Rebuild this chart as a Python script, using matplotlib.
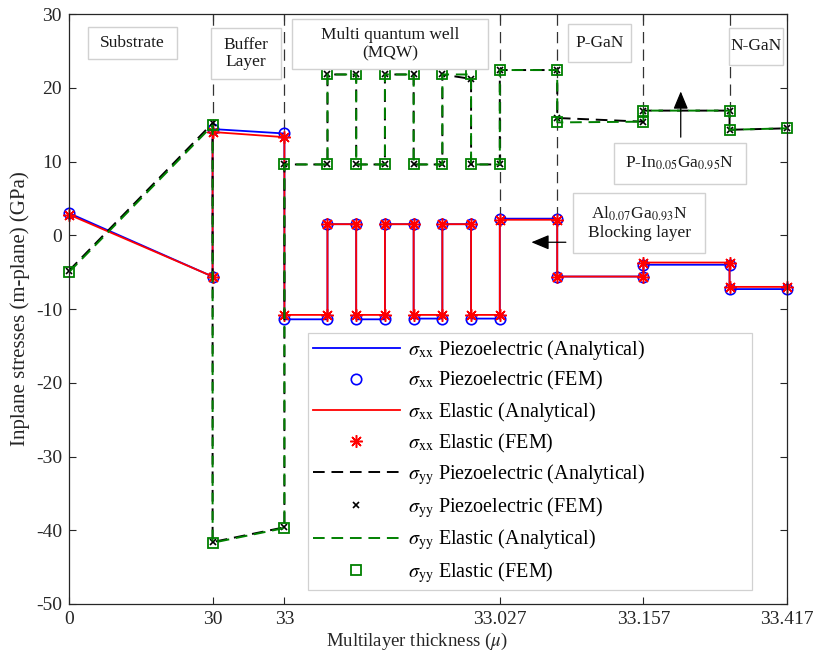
import numpy as np
import matplotlib
matplotlib.use("Agg")
import matplotlib.pyplot as plt
from matplotlib.patches import Rectangle

plt.rcParams['font.family'] = ['Liberation Serif', 'DejaVu Serif']
plt.rcParams['mathtext.fontset'] = 'stix'
plt.rcParams['axes.unicode_minus'] = False

# layer positions (index scale) and their thickness tick labels
tick_pos = [0, 10, 15, 30, 40, 50]
tick_lbl = ['0', '30', '33', '33.027', '33.157', '33.417']

x = [0, 10, 10, 15, 15, 18, 18, 20, 20, 22, 22, 24, 24, 26, 26, 28, 28,
     30, 30, 34, 34, 40, 40, 46, 46, 50]

sxx_piezo = [3.0, -5.6, 14.4, 13.8, -11.4, -11.4, 1.5, 1.5, -11.4, -11.4, 1.5, 1.5,
             -11.3, -11.3, 1.5, 1.5, -11.3, -11.3, 2.25, 2.25, -5.6, -5.6, -4.0, -4.0,
             -7.3, -7.3]
sxx_elastic = [2.8, -5.6, 14.0, 13.3, -10.8, -10.8, 1.5, 1.5, -10.8, -10.8, 1.5, 1.5,
               -10.8, -10.8, 1.5, 1.5, -10.8, -10.8, 2.1, 2.1, -5.6, -5.6, -3.7, -3.7,
               -7.0, -7.0]
syy_piezo = [-4.8, 15.2, -41.6, -39.6, 9.6, 9.6, 21.8, 21.8, 9.6, 9.6, 21.8, 21.8,
             9.6, 9.6, 21.8, 21.2, 9.6, 9.6, 22.4, 22.4, 15.9, 15.4, 16.9, 16.9,
             14.3, 14.5]
syy_elastic = [-5.0, 14.9, -41.7, -39.7, 9.6, 9.6, 21.8, 21.8, 9.6, 9.6, 21.8, 21.8,
               9.6, 9.6, 21.8, 21.8, 9.6, 9.6, 22.4, 22.4, 15.3, 15.4, 16.9, 16.9,
               14.3, 14.5]

# layer boundaries: x position and lowest point of the boundary line
bound_x = [10, 15, 30, 34, 40, 46]
bound_y = [15.0, 13.8, 2.2, 2.2, 16.9, 16.9]

fig = plt.figure(figsize=(8.14, 6.61), dpi=100)
ax = fig.add_axes([69/814, 1-604/661, 718/814, 590/661])

for bx, by in zip(bound_x, bound_y):
    ax.plot([bx, bx], [30, by], color='0.2', lw=0.9, dashes=(9, 5))

star = (8, 2, 0)
ax.plot(x, sxx_piezo, color='b', lw=1.3, label=r'$\sigma_{\mathrm{xx}}$ Piezoelectric (Analytical)')
ax.plot(x, sxx_piezo, ls='none', marker='o', ms=7.5, mfc='none', mec='b', mew=1.2,
        clip_on=False, label=r'$\sigma_{\mathrm{xx}}$ Piezoelectric (FEM)')
ax.plot(x, sxx_elastic, color='r', lw=1.3, label=r'$\sigma_{\mathrm{xx}}$ Elastic (Analytical)')
ax.plot(x, sxx_elastic, ls='none', marker=star, ms=9, mec='r', mew=1.1,
        clip_on=False, label=r'$\sigma_{\mathrm{xx}}$ Elastic (FEM)')
ax.plot(x, syy_piezo, color='k', lw=1.4, dashes=(6, 3.5),
        label=r'$\sigma_{\mathrm{yy}}$ Piezoelectric (Analytical)')
ax.plot(x, syy_piezo, ls='none', marker='x', ms=5, mec='k', mew=1.2,
        clip_on=False, label=r'$\sigma_{\mathrm{yy}}$ Piezoelectric (FEM)')
ax.plot(x, syy_elastic, color='#008000', lw=1.4, dashes=(6, 3.5),
        label=r'$\sigma_{\mathrm{yy}}$ Elastic (Analytical)')
ax.plot(x, syy_elastic, ls='none', marker='s', ms=6.5, mfc='none', mec='#008000', mew=1.3,
        clip_on=False, label=r'$\sigma_{\mathrm{yy}}$ Elastic (FEM)')

ax.set_xlim(0, 50)
ax.set_ylim(-50, 30)
ax.set_xticks(tick_pos)
ax.set_xticklabels(tick_lbl)
ax.set_yticks(np.arange(-50, 31, 10))
ax.tick_params(direction='in', top=True, right=True, length=5, labelsize=14,
               color='0.15', labelcolor='0.15', pad=5)
for s in ax.spines.values():
    s.set_color('0.15')
    s.set_linewidth(0.9)
ax.set_xlabel(r'Multilayer thickness ($\mu$)', fontsize=13.5, color='0.15', labelpad=2)
ax.xaxis.set_label_coords(0.485, -0.045)
ax.set_ylabel('Inplane stresses (m-plane) (GPa)', fontsize=15, color='0.15', labelpad=4)

leg = ax.legend(loc='lower left', bbox_to_anchor=(0.333, 0.024, 0.618, 0.4), mode='expand',
                borderaxespad=0, fontsize=14.5, handlelength=4.3, handletextpad=0.4,
                labelspacing=0.38, borderpad=0.25, fancybox=False, framealpha=1,
                edgecolor='0.82')
leg.get_frame().set_linewidth(0.9)

# annotation boxes (axes fraction) and their texts
boxes = [
    ((0.0265, 0.9237, 0.1239, 0.0543), 'Substrate'),
    ((0.1978, 0.8898, 0.0975, 0.0865), 'Buffer\nLayer'),
    ((0.3106, 0.9068, 0.2730, 0.0847), 'Multi quantum well\n(MQW)'),
    ((0.6950, 0.9186, 0.0877, 0.0644), 'P-GaN'),
    ((0.9192, 0.9136, 0.0752, 0.0627), 'N-GaN'),
    ((0.7590, 0.7119, 0.1839, 0.0695), r'P-In$_{0.05}$Ga$_{0.95}$N'),
    ((0.7020, 0.5949, 0.1838, 0.1017), 'Al$_{0.07}$Ga$_{0.93}$N\nBlocking layer'),
]
for (bx0, by0, bw, bh), txt in boxes:
    ax.add_patch(Rectangle((bx0, by0), bw, bh, transform=ax.transAxes, fc='white',
                           ec='0.82', lw=1.0, zorder=5))
    ax.text(bx0 + bw/2, by0 + bh/2, txt, transform=ax.transAxes, ha='center', va='center',
            fontsize=12.5, linespacing=1.15, color='0.1', zorder=6)

arrow = dict(arrowstyle='-|>,head_length=0.6,head_width=0.25', mutation_scale=18,
             color='k', lw=0.9, shrinkA=0, shrinkB=0)
ax.annotate('', xy=(42.6, 19.5), xytext=(42.6, 13.3), arrowprops=arrow, zorder=7)
ax.annotate('', xy=(32.2, -0.95), xytext=(34.6, -0.95), arrowprops=arrow, zorder=7)

fig.savefig('out.png', dpi=100)
